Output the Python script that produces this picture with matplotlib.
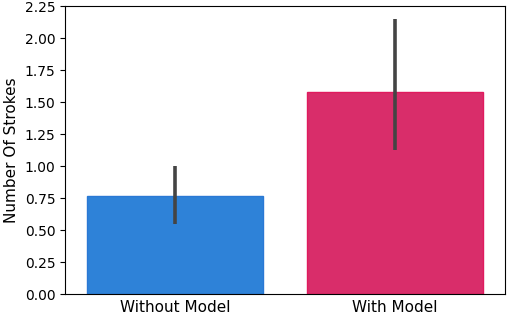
import matplotlib
matplotlib.use('Agg')
import matplotlib.pyplot as plt

# Data
categories = ['Without Model', 'With Model']
means = [0.77, 1.58]
ci_low = [0.55, 1.13]
ci_high = [1.00, 2.15]
colors = ['#2e82d8', '#d92d6a']
edge_colors = ['#2a78d4', '#e01a5e']


def main():
    fig, ax = plt.subplots(figsize=(5.1, 3.15), dpi=100)
    x = range(len(categories))
    ax.bar(x, means, width=0.8, color=colors, edgecolor=edge_colors, linewidth=1)
    for xi, lo, hi in zip(x, ci_low, ci_high):
        ax.plot([xi, xi], [lo, hi], color='#444444', linewidth=2.6, solid_capstyle='butt')

    ax.set_xlim(-0.5, 1.5)
    ax.set_ylim(0, 2.25)
    ax.set_yticks([i * 0.25 for i in range(10)])
    ax.set_xticks(list(x))
    ax.set_xticklabels(categories, fontsize=11)
    ax.tick_params(axis='x', length=0, pad=4)
    ax.tick_params(axis='y', labelsize=10)
    ax.set_ylabel('Number Of Strokes', fontsize=11)

    fig.subplots_adjust(left=0.128, right=0.99, top=0.98, bottom=0.066)
    fig.savefig('out.png', dpi=100)


if __name__ == '__main__':
    main()
